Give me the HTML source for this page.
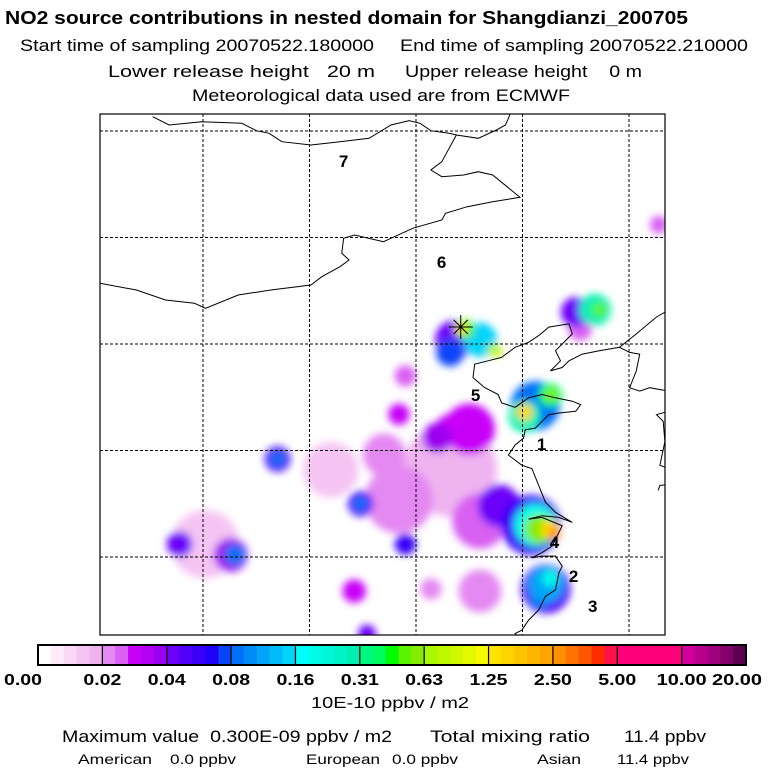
<!DOCTYPE html>
<html><head><meta charset="utf-8"><style>
html,body{margin:0;padding:0;background:#fff;}
svg{display:block;font-family:"Liberation Sans",sans-serif;}
text{white-space:pre;}
</style></head><body>
<svg id="s" width="768" height="768" viewBox="0 0 768 768">
<defs>
<clipPath id="clip"><rect x="100" y="114" width="565" height="521"/></clipPath>
<filter id="blur" x="-50%" y="-50%" width="200%" height="200%"><feGaussianBlur stdDeviation="4"/></filter>
</defs>
<text x="5" y="24" font-size="18" font-weight="bold" textLength="683" lengthAdjust="spacingAndGlyphs">NO2 source contributions in nested domain for Shangdianzi_200705</text>
<text x="20" y="51" font-size="17" textLength="354" lengthAdjust="spacingAndGlyphs">Start time of sampling 20070522.180000</text>
<text x="400" y="51" font-size="17" textLength="348" lengthAdjust="spacingAndGlyphs">End time of sampling 20070522.210000</text>
<text x="108" y="77" font-size="17" textLength="267" lengthAdjust="spacingAndGlyphs">Lower release height   20 m</text>
<text x="405" y="77" font-size="17" textLength="237" lengthAdjust="spacingAndGlyphs">Upper release height    0 m</text>
<text x="192" y="101" font-size="17" textLength="378" lengthAdjust="spacingAndGlyphs">Meteorological data used are from ECMWF</text>
<g id="plumes" clip-path="url(#clip)" filter="url(#blur)"></g>
<g id="grid"></g>
<g id="coast" clip-path="url(#clip)" fill="none" stroke="#000" stroke-width="1"></g>
<rect x="100" y="114" width="565" height="521" fill="none" stroke="#000" stroke-width="1.2"/>
<g id="labels" font-size="17" font-weight="bold" text-anchor="middle"></g>
<g id="star" stroke="#000" stroke-width="1"></g>
<g id="cbar"></g>
<text x="390" y="708" font-size="16" text-anchor="middle" textLength="158" lengthAdjust="spacingAndGlyphs">10E-10 ppbv / m2</text>
<text x="62" y="742" font-size="17" textLength="330" lengthAdjust="spacingAndGlyphs">Maximum value  0.300E-09 ppbv / m2</text>
<text x="430" y="742" font-size="17" textLength="160" lengthAdjust="spacingAndGlyphs">Total mixing ratio</text>
<text x="624" y="742" font-size="17" textLength="82" lengthAdjust="spacingAndGlyphs">11.4 ppbv</text>
<g font-size="14">
<text x="78" y="764" textLength="74" lengthAdjust="spacingAndGlyphs">American</text>
<text x="170" y="764" textLength="66" lengthAdjust="spacingAndGlyphs">0.0 ppbv</text>
<text x="306" y="764" textLength="74" lengthAdjust="spacingAndGlyphs">European</text>
<text x="392" y="764" textLength="66" lengthAdjust="spacingAndGlyphs">0.0 ppbv</text>
<text x="537" y="764" textLength="44" lengthAdjust="spacingAndGlyphs">Asian</text>
<text x="617" y="764" textLength="72" lengthAdjust="spacingAndGlyphs">11.4 ppbv</text>
</g>
</svg>
<script>
// ---- data ----
const tickLabels = ["0.00","0.02","0.04","0.08","0.16","0.31","0.63","1.25","2.50","5.00","10.00","20.00"];
const levels = [0,0.02,0.04,0.08,0.16,0.31,0.63,1.25,2.5,5,10,20];
const gridLons = [110,115,120,125,130];
const gridLats = [45,40,35,30,25];
// plume blobs: longitude, latitude, value, spread (deg)
const blobLon = [121.6,119.2,123.0,116.0,122.5,121.6,123.9,110.1,108.9,111.3,111.5,113.5,113.5,117.4,117.4,119.5,119.5,119.2,120.7,117.1,117.7,123.0,131.4,127.5,127.7,128.4,128.6,121.6,121.8,123.0,122.3,122.1,123.7,125.6,125.1,125.1,126.3,126.3,125.4,125.6,125.8,126.3,126.5,126.1,126.1,125.8,126.3,118.5,121.0];
const blobLat = [29.1,27.7,26.7,29.1,31.0,31.0,27.4,25.6,25.6,25.1,25.1,29.6,29.6,27.5,27.5,25.6,33.5,31.7,23.5,23.4,21.4,23.4,40.6,36.5,35.7,36.6,36.6,34.6,35.2,35.2,35.7,35.7,34.7,32.1,31.6,31.8,32.6,32.6,26.5,26.5,26.3,26.3,26.1,23.5,23.7,23.0,24.0,29.8,30.6];
const blobVal = [0.016,0.02,0.025,0.012,0.03,0.03,0.045,0.012,0.04,0.035,0.08,0.05,0.08,0.05,0.09,0.06,0.025,0.03,0.022,0.028,0.04,0.022,0.025,0.04,0.025,0.3,0.5,0.07,0.04,0.15,0.5,1.3,0.8,0.08,0.3,1.5,0.4,0.6,0.06,0.2,0.6,1.5,2.5,0.05,0.12,0.08,0.2,0.02,0.035];
const blobSpread = [2.2,1.6,1.3,1.3,1.2,0.7,1.0,1.6,0.6,0.8,0.5,0.6,0.33,0.6,0.33,0.5,0.5,0.5,0.5,0.55,0.42,1.0,0.42,0.7,0.55,0.75,0.33,0.65,0.9,0.8,0.45,0.28,0.33,1.15,0.75,0.38,0.55,0.28,1.4,1.0,0.7,0.45,0.28,1.15,0.85,0.45,0.38,1.0,0.7];
const labelText = ["7","6","5","1","4","2","3"];
const labelLon = [116.6,121.2,122.8,125.9,126.5,127.4,128.3];
const labelLat = [43.6,38.85,32.6,30.3,25.7,24.1,22.7];
const sourceLon = [122.1], sourceLat = [35.8];

// ---- axes ----
const X = lon => 203 + (lon-110)*21.3;
const Y = lat => 131 + (45-lat)*21.3;
const K = d => d*21.3;
const NS='http://www.w3.org/2000/svg';
function mk(tag, attrs, parent){const e=document.createElementNS(NS,tag);for(const k in attrs)e.setAttribute(k,attrs[k]);parent.appendChild(e);return e;}

const segColors = [
 ["#ffffff","#fdeafb","#fad8f7","#f5c4f3","#efb4f0"],
 ["#e488f2","#d860f2","#c800f8","#b400f4","#9c00f0"],
 ["#6c00f8","#5000f8","#3800f8","#2000f8","#0844f8"],
 ["#0070f8","#008cf8","#00a4f8","#00bcf8","#00d4f8"],
 ["#00fcfc","#00fce8","#00f8d8","#00f4c8","#00f0b4"],
 ["#00f880","#00fc60","#00fc00","#5cf400","#84ec00"],
 ["#a8f800","#bcf800","#d0f800","#e4f800","#f8f800"],
 ["#ffe400","#ffd400","#ffc400","#ffb400","#ffa400"],
 ["#ff9000","#ff7400","#ff5400","#ff2c00","#ff1048"],
 ["#ff0078","#ff0078","#ff0078","#ff0078","#ff0078"],
 ["#d0009c","#b8008c","#a0007c","#84006c","#5c0050"]];
function colorOf(v){
  let i=0; while(i<levels.length-2 && v>=levels[i+1]) i++;
  const lo=levels[i], hi=levels[i+1];
  let f = i===0 ? v/hi : Math.log(v/lo)/Math.log(hi/lo);
  let j=Math.max(0,Math.min(4,Math.floor(f*5)));
  return segColors[i][j];
}

// plumes (low values first)
const plumes=document.getElementById('plumes');
blobVal.map((v,i)=>i).sort((a,b)=>blobVal[a]-blobVal[b]).forEach(i=>{
  const c=mk('circle',{cx:X(blobLon[i]),cy:Y(blobLat[i]),r:K(blobSpread[i]),fill:colorOf(blobVal[i])},plumes);
  
  
});

// grid
const grid=document.getElementById('grid');
gridLons.forEach(lon=>{const l=mk('line',{x1:X(lon),x2:X(lon),y1:114,y2:635,stroke:'#000','stroke-dasharray':'3,2','stroke-width':1},grid);
  
  });
gridLats.forEach(lat=>{const l=mk('line',{x1:100,x2:665,y1:Y(lat),y2:Y(lat),stroke:'#000','stroke-dasharray':'3,2','stroke-width':1},grid);
  
  });

// coastlines
const coast=document.getElementById('coast');
function zp3(pts){return pts.map(p=>(100+p[0]/2.75).toFixed(1)+','+(110+p[1]/3).toFixed(1)).join(' ');}
function zp2(pts){return pts.map(p=>(340+p[0]/2.97).toFixed(1)+','+(280+p[1]/2.97).toFixed(1)).join(' ');}
const lines=[
 zp3([[145,20],[190,45],[280,35],[390,40],[430,62],[465,70],[500,95],[580,105],[660,95],[740,85],[800,45],[850,32],[880,40],[910,62],[960,70],[980,75],[1040,85],[1090,60],[1115,45],[1125,20],[1130,0]]),
 zp3([[980,75],[940,155],[910,180],[940,200],[1000,195],[1040,185],[1080,195],[1155,262],[1080,275],[1010,290],[950,310],[940,330],[860,355],[800,385],[780,395],[700,375],[670,385],[665,430],[685,450],[660,470],[610,500],[580,525],[470,540],[380,555],[290,595],[260,580],[180,570],[100,540],[0,520]]),
 zp2([[480,230],[440,240],[400,250],[395,290],[430,320],[470,340],[480,365],[520,378],[560,350],[600,340],[640,350],[690,360],[715,370],[700,390],[650,395],[620,400],[600,420],[580,440],[550,445],[545,470],[520,490],[500,520],[540,550],[570,560],[590,610],[610,660],[640,690],[690,720],[650,705],[600,700],[560,710]]),
 zp2([[560,710],[600,705],[660,730],[630,790],[600,810],[570,825],[600,820],[640,820],[660,850],[650,870],[640,920],[610,940],[590,980],[560,1010],[540,1040],[520,1050],[540,1075]]),
 zp2([[480,230],[520,200],[560,185],[590,165],[620,140],[680,130],[690,160],[660,190],[640,210],[655,240],[625,270],[660,260],[680,240],[720,220],[770,210],[830,200],[880,160],[940,110],[975,90]]),
 zp2([[830,200],[860,215],[890,220],[880,270],[860,320],[890,330],[920,320],[975,330]]),
 zp2([[975,390],[940,400],[960,420],[965,480],[950,550],[975,560]]),
 zp2([[945,625],[950,610],[975,608]])
];
lines.forEach(p=>{const e=mk('polyline',{points:p},coast);
  
  });

// labels
const lab=document.getElementById('labels');
labelText.forEach((t,i)=>{const e=mk('text',{x:X(labelLon[i]),y:Y(labelLat[i])+6},lab);e.textContent=t;
  
  });

// receptor star
const st=document.getElementById('star');
sourceLon.forEach((lon,i)=>{const cx=X(lon),cy=Y(sourceLat[i]);
  [[0,12],[90,12],[45,10],[135,10]].forEach(a=>{const r=a[1],t=a[0]*Math.PI/180;
    const l=mk('line',{x1:cx-r*Math.cos(t),y1:cy-r*Math.sin(t),x2:cx+r*Math.cos(t),y2:cy+r*Math.sin(t)},st);
    
    });});

// colorbar
const cb=document.getElementById('cbar');
const cx0=38, cx1=746, cy0=645, ch=20, segW=(cx1-cx0)/(levels.length-1);
segColors.forEach((seg,i)=>seg.forEach((c,j)=>{const r=mk('rect',{x:cx0+i*segW+j*segW/5,y:cy0,width:segW/5+0.5,height:ch,fill:c},cb);
  
  }));
for(let i=1;i<levels.length-1;i++){const l=mk('line',{x1:cx0+i*segW,x2:cx0+i*segW,y1:cy0,y2:cy0+ch,stroke:'#000','stroke-width':1.2},cb);
  
  }
const fr=mk('rect',{x:cx0,y:cy0,width:cx1-cx0,height:ch,fill:'none',stroke:'#000','stroke-width':2},cb);


tickLabels.forEach((t,i)=>{let x=cx0+i*segW; let anchor='middle';
  if(i===0){x=4;anchor='start';} if(i===tickLabels.length-1){x=762;anchor='end';}
  const e=mk('text',{x:x,y:685,'font-size':16,'font-weight':'bold','text-anchor':anchor,textLength:t.length>4?50:38,lengthAdjust:'spacingAndGlyphs'},cb);
  e.textContent=t;
  
  });
</script>
</body></html>
